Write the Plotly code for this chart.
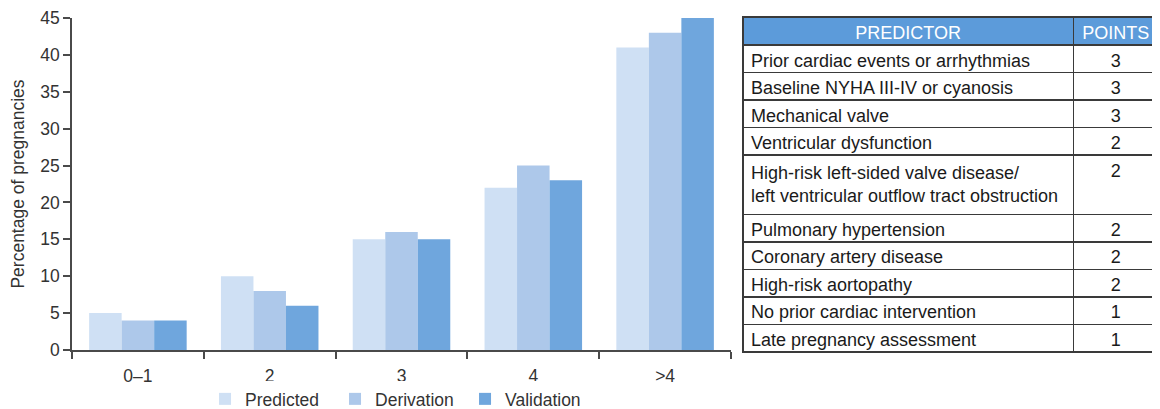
import plotly.graph_objects as go

# risk score categories and event rates (%)
categories = ["0–1", "2", "3", "4", ">4"]
predicted = [5, 10, 15, 22, 41]
derivation = [4, 8, 16, 25, 43]
validation = [4, 6, 15, 23, 45]

# predictor table
predictors = [
    "Prior cardiac events or arrhythmias",
    "Baseline NYHA III-IV or cyanosis",
    "Mechanical valve",
    "Ventricular dysfunction",
    "High-risk left-sided valve disease/<br>left ventricular outflow tract obstruction",
    "Pulmonary hypertension",
    "Coronary artery disease",
    "High-risk aortopathy",
    "No prior cardiac intervention",
    "Late pregnancy assessment",
]
points = [3, 3, 3, 2, 2, 2, 2, 2, 1, 1]

FONT = "Liberation Sans, Arial, Helvetica, sans-serif"
AXIS = "#4a4a4a"

fig = go.Figure()
fig.add_trace(go.Bar(x=categories, y=predicted, name="Predicted",
                     marker=dict(color="#cfe0f4", line_width=0)))
fig.add_trace(go.Bar(x=categories, y=derivation, name="Derivation",
                     marker=dict(color="#adc8ea", line_width=0)))
fig.add_trace(go.Bar(x=categories, y=validation, name="Validation",
                     marker=dict(color="#6fa6dd", line_width=0)))

fig.add_trace(go.Table(
    domain=dict(x=[0.6167, 0.999], y=[0.0, 1.0]),
    columnwidth=[332, 85],
    header=dict(values=["PREDICTOR", "POINTS"],
                fill_color="#5c9bda",
                line=dict(color="#3a3a3a", width=1.5),
                align="center", height=28,
                font=dict(family=FONT, size=18, color="white")),
    cells=dict(values=[predictors, points],
               fill_color="white",
               line=dict(color="#3a3a3a", width=1.5),
               align=["left", "center"], height=27.5,
               font=dict(family=FONT, size=18, color="#1a1a1a")),
))

# page body adds an 8px margin, so the figure is sized to the visible area
fig.update_layout(
    width=1152, height=401,
    margin=dict(l=64, r=0, t=9, b=55, autoexpand=False),
    paper_bgcolor="white", plot_bgcolor="white",
    font=dict(family=FONT, size=17, color="#333333"),
    barmode="group", bargap=0.26, bargroupgap=0,
    showlegend=True,
    legend=dict(orientation="h", x=0.3015, xanchor="center",
                y=-0.1335, yanchor="middle",
                font=dict(size=17.5, color="#333333"),
                itemwidth=30, entrywidth=85, traceorder="normal"),
)
fig.update_xaxes(domain=[0, 0.6057], showline=True, linecolor=AXIS, linewidth=1.5,
                 ticks="outside", tickson="boundaries", ticklen=7, tickcolor=AXIS,
                 tickwidth=1.5, tickfont=dict(size=17.5), ticklabelstandoff=9,
                 showgrid=False, automargin=False)
fig.update_yaxes(domain=[0.01187, 0.99703], range=[0, 45], dtick=5, showline=True,
                 linecolor=AXIS, linewidth=1.5,
                 ticks="outside", ticklen=7, tickcolor=AXIS, tickwidth=1.5,
                 showgrid=False, zeroline=False, tickfont=dict(size=17.5),
                 automargin=False,
                 title=dict(text="Percentage of pregnancies", font=dict(size=17.5), standoff=12))

fig.write_html("out.html")
